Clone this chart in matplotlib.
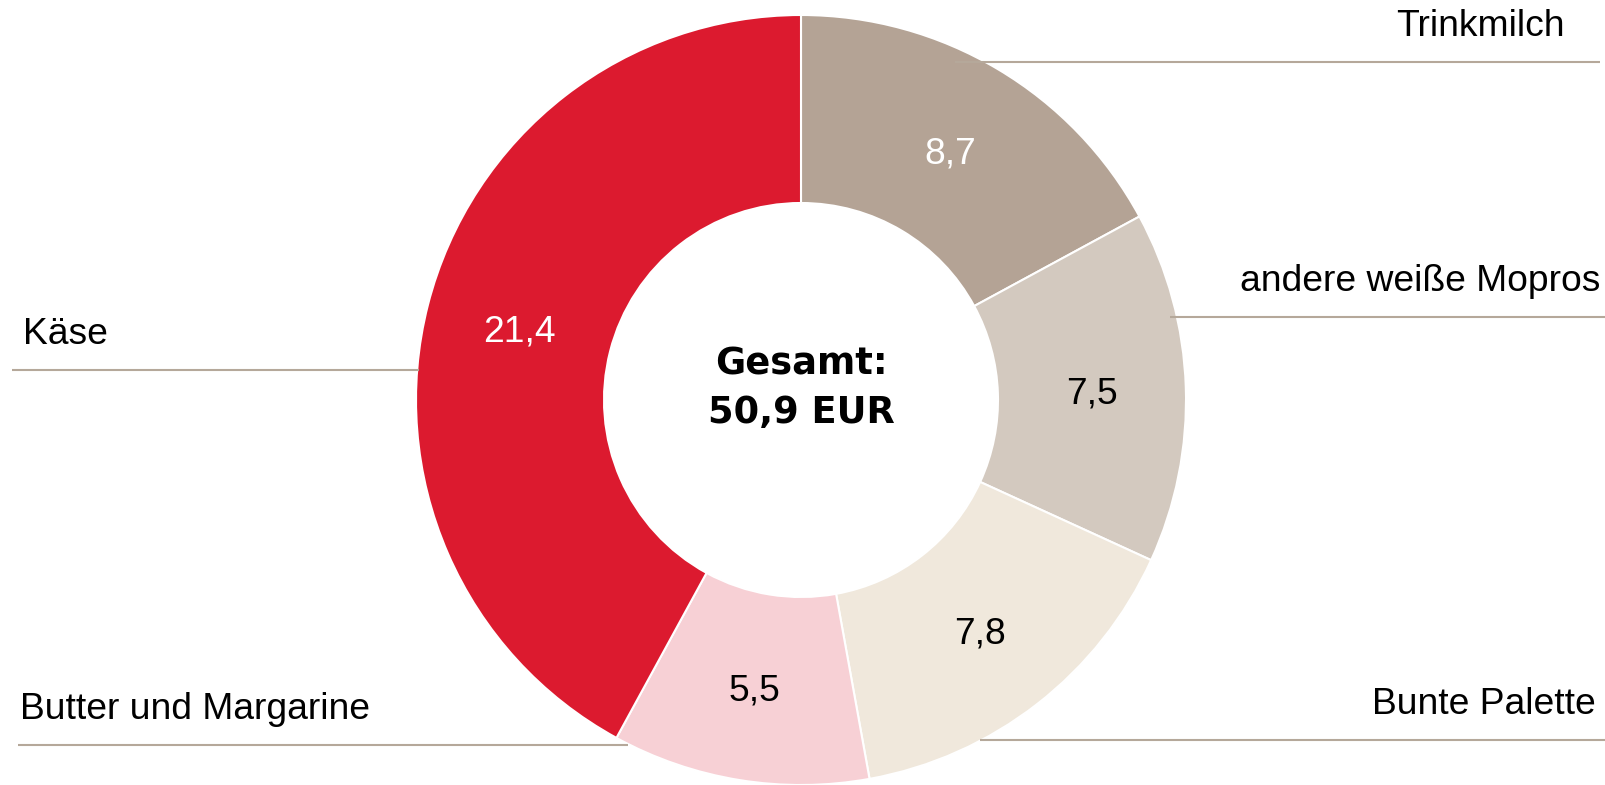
import matplotlib as mpl
import matplotlib.pyplot as plt

mpl.rcParams['font.family'] = ['Liberation Sans', 'DejaVu Sans']

# data (EUR)
categories = ["Trinkmilch", "andere weiße Mopros", "Bunte Palette",
              "Butter und Margarine", "Käse"]
values = [8.7, 7.5, 7.8, 5.5, 21.4]
value_labels = ["8,7", "7,5", "7,8", "5,5", "21,4"]
total_label = "Gesamt:\n50,9 EUR"

colors = ["#B4A395", "#D3C9BF", "#F0E8DC", "#F7D0D5", "#DC1A2F"]
label_colors = ["white", "black", "black", "black", "white"]

W, H = 1606, 785
fig = plt.figure(figsize=(W / 100, H / 100), dpi=100)
ax = fig.add_axes([0, 0, 1, 1])

cx, cy, r_out = 801, 385, 385
ring = 188

wedges, texts = ax.pie(values, center=(cx, cy), radius=r_out, startangle=90,
                       counterclock=False, colors=colors,
                       labels=value_labels, labeldistance=1 - ring / 2 / r_out,
                       wedgeprops=dict(width=ring, edgecolor="white", linewidth=1.5),
                       textprops=dict(fontsize=26.8))
for t, c in zip(texts, label_colors):
    t.set_color(c)
    t.set_ha("center")
    t.set_va("center_baseline")

ax.text(cx, cy + 12, total_label, ha="center", va="center", fontsize=26.5,
        fontweight="bold", family="DejaVu Sans", linespacing=1.4)

# leader lines with category names (x0, x1, y in pixel from top, text side)
line_col = "#B5A89A"
leaders = [
    (955, 1600, 62, "right", 1565),
    (1170, 1606, 317, "right", 1600),
    (980, 1606, 740, "right", 1596),
    (18, 628, 745, "left", 20),
    (12, 419, 370, "left", 23),
]
for (x0, x1, y, side, tx), name in zip(leaders, categories):
    ax.plot([x0, x1], [H - y, H - y], color=line_col, lw=1.5, zorder=5,
            solid_capstyle="butt")
    ax.text(tx, H - y + 18, name, ha=side, va="bottom", fontsize=26.8,
            color="black")

ax.set_xlim(0, W)
ax.set_ylim(0, H)
ax.set_aspect("equal")
ax.axis("off")

fig.savefig("out.png", dpi=100, facecolor="white")
